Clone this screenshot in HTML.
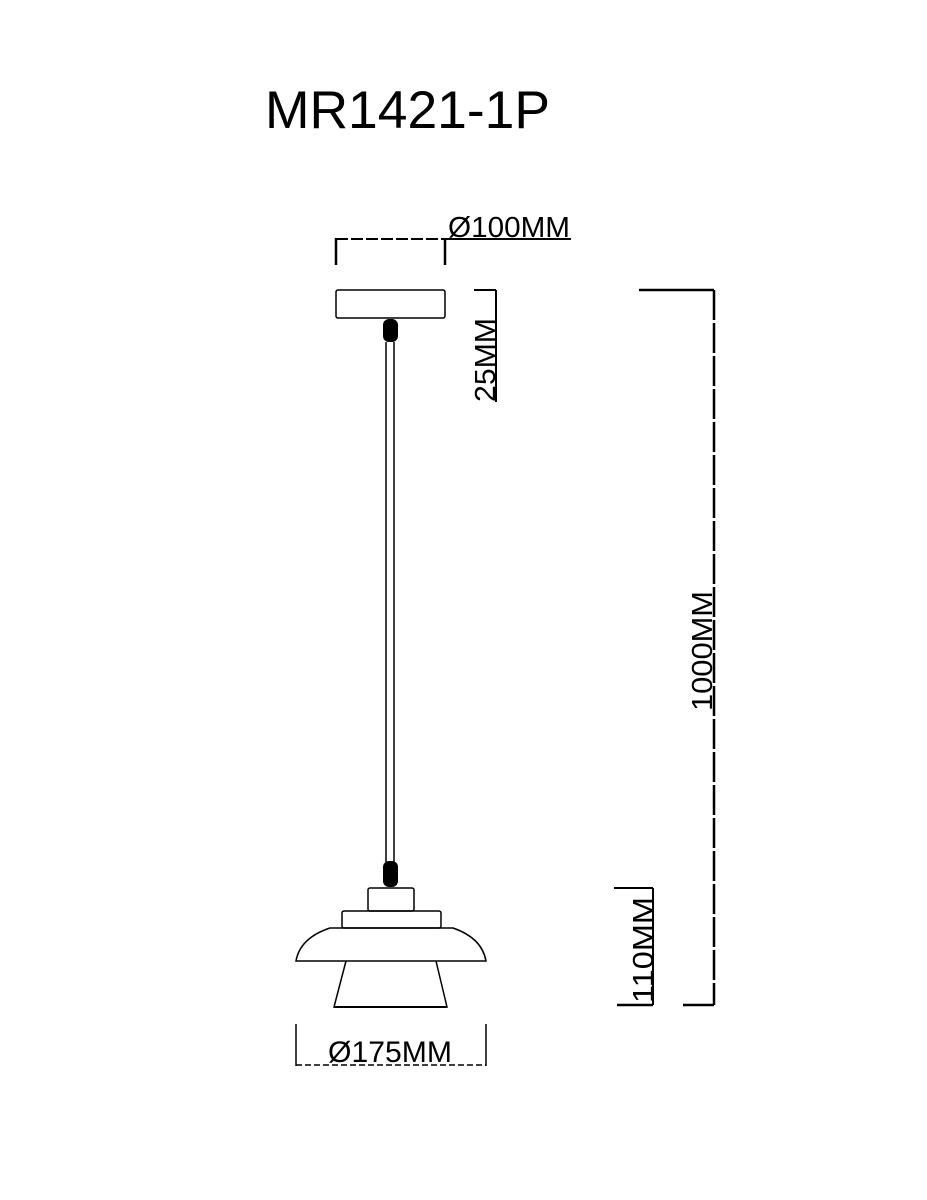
<!DOCTYPE html>
<html><head><style>body{margin:0;background:#fff}svg{display:block}</style></head><body>
<svg width="927" height="1200" viewBox="0 0 927 1200" xmlns="http://www.w3.org/2000/svg" font-family="Liberation Sans, sans-serif">
<text x="265" y="128" font-size="53" textLength="285" lengthAdjust="spacingAndGlyphs">MR1421-1P</text>
<g stroke="#000" fill="none" stroke-width="1.5">
<line x1="336" y1="238" x2="336" y2="265" stroke-width="2.5"/>
<line x1="445" y1="238" x2="445" y2="265" stroke-width="2.5"/>
<line x1="336" y1="239" x2="445" y2="239" stroke-width="2" stroke-dasharray="12,3"/>
<line x1="445" y1="239" x2="571" y2="239" stroke-width="2"/>
<rect x="336" y="290" width="109" height="28" rx="2"/>
<line x1="386" y1="342" x2="386" y2="862"/>
<line x1="394" y1="342" x2="394" y2="862"/>
<line x1="474" y1="290" x2="496" y2="290" stroke-width="2"/>
<line x1="496" y1="290" x2="496" y2="402" stroke-width="2"/>
<line x1="639" y1="290" x2="714" y2="290" stroke-width="2.5"/>
<line x1="714" y1="290" x2="714" y2="1005" stroke-width="2.5" stroke-dasharray="30,3"/>
<line x1="683" y1="1005" x2="714" y2="1005" stroke-width="2.5"/>
<line x1="614" y1="888" x2="653" y2="888" stroke-width="2"/>
<line x1="653" y1="888" x2="653" y2="1005" stroke-width="2"/>
<line x1="617" y1="1005" x2="653" y2="1005" stroke-width="2.5"/>
<rect x="368" y="888" width="46" height="23" rx="2"/>
<rect x="342" y="911" width="99" height="17" rx="2"/>
<path d="M330 928 L453 928 Q482 938 486 961 L296 961 Q300 938 330 928 Z"/>
<path d="M346 961 L334 1007 L447 1007 L436 961"/>
<line x1="334" y1="1007" x2="447" y2="1007" stroke-width="2"/>
<line x1="296" y1="1024" x2="296" y2="1066"/>
<line x1="486" y1="1024" x2="486" y2="1066"/>
<line x1="296" y1="1065" x2="486" y2="1065" stroke-dasharray="6,3"/>
</g>
<rect x="383" y="319" width="15" height="23" rx="6" fill="#000"/>
<rect x="383" y="861" width="15" height="26" rx="6" fill="#000"/>
<text x="448" y="237" font-size="29" textLength="122" lengthAdjust="spacingAndGlyphs">Ø100MM</text>
<text x="328" y="1062" font-size="30" textLength="124" lengthAdjust="spacingAndGlyphs">Ø175MM</text>
<text transform="translate(495,402) rotate(-90)" font-size="29" textLength="84" lengthAdjust="spacingAndGlyphs">25MM</text>
<text transform="translate(712,711) rotate(-90)" font-size="29" textLength="120" lengthAdjust="spacingAndGlyphs">1000MM</text>
<text transform="translate(653,1003) rotate(-90)" font-size="29" textLength="106" lengthAdjust="spacingAndGlyphs">110MM</text>
</svg>
</body></html>
